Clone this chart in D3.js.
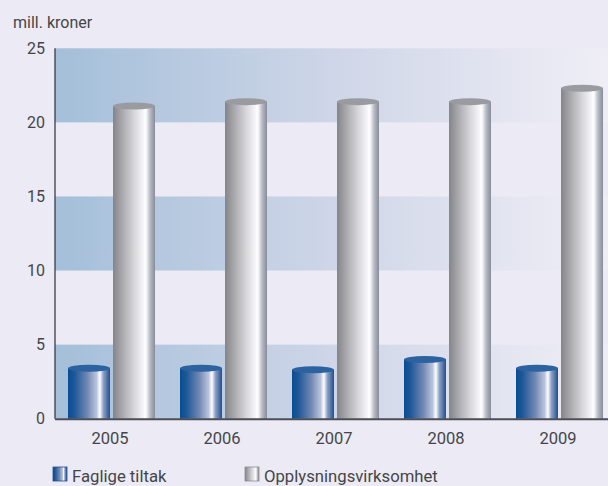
<!DOCTYPE html>
<html>
<head>
<meta charset="utf-8">
<script src="https://cdn.jsdelivr.net/npm/d3@7"></script>
<style>
  body { margin: 0; background: #ecebf5; }
  svg { display: block; font-family: Roboto, sans-serif; }
</style>
</head>
<body>
<div id="chart"></div>
<script>
const years = ["2005", "2006", "2007", "2008", "2009"];
const series = ["Faglige tiltak", "Opplysningsvirksomhet"];
const faglige = [3.4, 3.4, 3.3, 4.0, 3.4];
const opplysning = [21.1, 21.4, 21.4, 21.4, 22.3];
const yTicks = [0, 5, 10, 15, 20, 25];

const WIDTH = 608;
const HEIGHT = 486;
const TEXTCOLOR = "#454548";

const svg = d3
  .select("#chart")
  .append("svg")
  .attr("width", WIDTH)
  .attr("height", HEIGHT);

const defs = svg.append("defs");

function linearGrad(id, stops) {
  const g = defs.append("linearGradient").attr("id", id)
    .attr("x1", "0%").attr("x2", "100%").attr("y1", "0%").attr("y2", "0%");
  stops.forEach(([o, c]) => g.append("stop").attr("offset", o).attr("stop-color", c));
}

linearGrad("bandGrad", [["0%", "#a4bfd9"], ["55%", "#d2d8e9"], ["100%", "#efeef6"]]);
linearGrad("blueGrad", [
  ["0%", "#0a4d93"], ["15%", "#1d5798"], ["45%", "#6f86b3"],
  ["68%", "#b9c4dc"], ["76%", "#ffffff"], ["84%", "#8fa2c6"], ["100%", "#1f4f90"]
]);
linearGrad("greyGrad", [
  ["0%", "#858589"], ["20%", "#a6a6aa"], ["50%", "#d6d6d9"],
  ["72%", "#f6f6f8"], ["78%", "#ffffff"], ["88%", "#b9bcc6"], ["100%", "#878c98"]
]);

const x0 = d3.scaleBand().domain(years).range([55, 615]).padding(0);
const x1 = d3.scaleBand().domain(series).range([13, 100]).paddingInner(0.067);
const y = d3.scaleLinear().domain([0, 25]).range([418.7, 48.3]);

// background bands
const bands = [[0, 5], [10, 15], [20, 25]];
svg.append("g")
  .selectAll("rect")
  .data(bands)
  .join("rect")
  .attr("x", 55)
  .attr("width", WIDTH - 55)
  .attr("y", (d) => y(d[1]))
  .attr("height", (d) => y(d[0]) - y(d[1]))
  .attr("fill", "url(#bandGrad)");

// bars as cylinders
const data = [];
years.forEach((yr, i) => {
  data.push({ year: yr, s: series[0], v: faglige[i] });
  data.push({ year: yr, s: series[1], v: opplysning[i] });
});

const bw = x1.bandwidth();
const bars = svg.append("g")
  .selectAll("g")
  .data(data)
  .join("g")
  .attr("transform", (d) => `translate(${x0(d.year) + x1(d.s)},0)`);

bars.append("rect")
  .attr("x", 0)
  .attr("width", bw)
  .attr("y", (d) => y(d.v))
  .attr("height", (d) => y(0) - y(d.v))
  .attr("fill", (d) => d.s === series[0] ? "url(#blueGrad)" : "url(#greyGrad)");

bars.append("ellipse")
  .attr("cx", bw / 2)
  .attr("cy", (d) => y(d.v))
  .attr("rx", bw / 2)
  .attr("ry", 3.5)
  .attr("fill", (d) => d.s === series[0] ? "#2c62a0" : "#999ba0");

// axes
svg.append("line")
  .attr("x1", 55).attr("x2", 55)
  .attr("y1", y(25)).attr("y2", y(0))
  .attr("stroke", "#2a2f3a").attr("stroke-width", 1.2);

svg.append("line")
  .attr("x1", 55).attr("x2", WIDTH)
  .attr("y1", y(0) + 0.5).attr("y2", y(0) + 0.5)
  .attr("stroke", "#4a4d55").attr("stroke-width", 2);

svg.append("g")
  .selectAll("text")
  .data(yTicks)
  .join("text")
  .attr("x", 45)
  .attr("y", (d) => y(d))
  .attr("dy", "0.36em")
  .attr("text-anchor", "end")
  .attr("font-size", 16)
  .attr("fill", TEXTCOLOR)
  .text((d) => d);

svg.append("g")
  .selectAll("text")
  .data(years)
  .join("text")
  .attr("x", (d) => x0(d) + 55)
  .attr("y", 444)
  .attr("text-anchor", "middle")
  .attr("font-size", 16.5)
  .attr("fill", TEXTCOLOR)
  .text((d) => d);

svg.append("text")
  .attr("x", 13)
  .attr("y", 28)
  .attr("font-size", 16)
  .attr("fill", TEXTCOLOR)
  .text("mill. kroner");

// legend
const legendX = [53, 245];
const legend = svg.append("g")
  .selectAll("g")
  .data(series)
  .join("g")
  .attr("transform", (d, i) => `translate(${legendX[i]},467)`);

legend.append("rect")
  .attr("width", 14)
  .attr("height", 14)
  .attr("fill", (d, i) => i === 0 ? "url(#blueGrad)" : "url(#greyGrad)")
  .attr("stroke", (d, i) => i === 0 ? "#1f4f90" : "#8a8a90")
  .attr("stroke-width", 0.8);

legend.append("text")
  .attr("x", 19)
  .attr("y", 14.5)
  .attr("font-size", 16.7)
  .attr("fill", TEXTCOLOR)
  .text((d) => d);
</script>
</body>
</html>
